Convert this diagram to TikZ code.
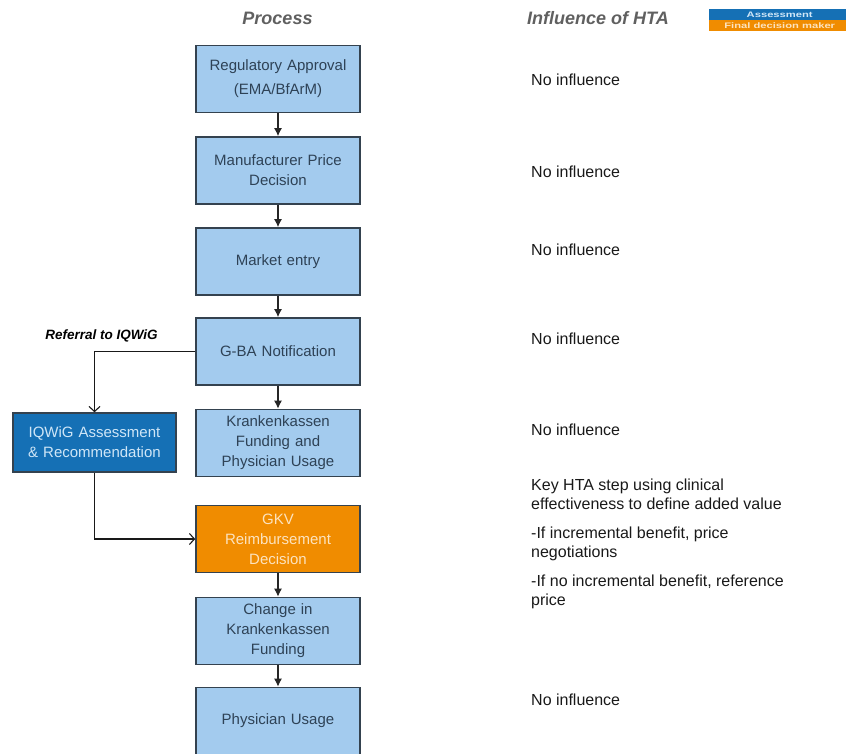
\documentclass[tikz,border=0pt]{standalone}
\usepackage{fontspec}
\setmainfont{Liberation Sans}
\usetikzlibrary{arrows.meta}
\definecolor{lightbox}{HTML}{A3CBEE}
\definecolor{boxline}{HTML}{34424F}
\definecolor{boxtext}{HTML}{2E4256}
\definecolor{assessblue}{HTML}{1570B5}
\definecolor{decorange}{HTML}{F08C00}
\definecolor{titlegray}{HTML}{606060}
\definecolor{lighttext}{HTML}{CFE6F7}
\definecolor{creamtext}{HTML}{FCE3BF}
\begin{document}
\begin{tikzpicture}[x=1pt,y=-1pt,
  procbox/.style={draw=boxline, line width=1.6pt, fill=lightbox, minimum width=164pt, minimum height=67pt,
    text width=156pt, align=center, inner sep=0pt, font=\fontsize{15}{20}\selectfont, text=boxtext},
  assessbox/.style={procbox, fill=assessblue, text=lighttext, minimum width=163pt, minimum height=59pt},
  decisionbox/.style={procbox, fill=decorange, text=creamtext},
  flow/.style={draw=black!85, line width=1.3pt, -{Latex[length=8pt,width=8pt]}},
  referral/.style={draw=black!90, line width=1.1pt, -{Straight Barb[length=5pt,width=11pt]}},
  coltitle/.style={font=\fontsize{18}{22}\selectfont\bfseries\itshape, text=titlegray, inner sep=0pt},
  influence/.style={anchor=west, inner sep=0pt, font=\fontsize{16}{19}\selectfont, text=black!90},
  legendbox/.style={minimum width=141pt, inner sep=0pt, font=\fontsize{8}{9}\selectfont\bfseries}
]
\useasboundingbox (0,0) rectangle (846,753);

% column titles
\node[coltitle] (tproc) at (277.5,18) {Process};
\node[coltitle] (thta) at (598,18) {Influence of HTA};

% legend
\node[legendbox, fill=assessblue, minimum height=11pt, anchor=north west, text=lighttext] (legA) at (709,9) {\scalebox{1.4}[1]{Assessment}};
\node[legendbox, fill=decorange, minimum height=11pt, anchor=north west, text=creamtext] (legF) at (709,20) {\scalebox{1.4}[1]{Final decision maker}};

% process boxes
\node[procbox] (b1) at (278,79) {Regulatory Approval\\[4pt](EMA/BfArM)};
\node[procbox] (b2) at (278,170.5) {Manufacturer Price\\Decision};
\node[procbox] (b3) at (278,261.5) {Market entry};
\node[procbox] (b4) at (278,351.5) {G-BA Notification};
\node[procbox] (b5) at (278,443) {Krankenkassen\\Funding and\\Physician Usage};
\node[decisionbox] (b6) at (278,539) {GKV\\Reimbursement\\Decision};
\node[procbox] (b7) at (278,631) {Change in\\Krankenkassen\\Funding};
\node[procbox] (b8) at (278,721) {Physician Usage};

\node[assessbox] (iq) at (94.5,442.5) {IQWiG Assessment\\\& Recommendation};

% connectors
\draw[flow] (b1) -- (b2);
\draw[flow] (b2) -- (b3);
\draw[flow] (b3) -- (b4);
\draw[flow] (b4) -- (b5);
\draw[flow] (b6) -- (b7);
\draw[flow] (b7) -- (b8);
\draw[referral] (b4.west) -| (iq.north);
\draw[referral] (iq.south) |- (b6.west);

\node[font=\fontsize{13.5}{16}\selectfont\bfseries\itshape, inner sep=0pt] (ref) at (101.5,336) {Referral to IQWiG};

% influence column
\node[influence] (i1) at (531,80) {No influence};
\node[influence] (i2) at (531,172) {No influence};
\node[influence] (i3) at (531,250) {No influence};
\node[influence] (i4) at (531,339) {No influence};
\node[influence] (i5) at (531,430) {No influence};
\node[influence, anchor=north west, align=left] (i6) at (531,479)
  {Key HTA step using clinical\\effectiveness to define added value\\[10pt]
   -If incremental benefit, price\\negotiations\\[10pt]
   -If no incremental benefit, reference\\price};
\node[influence] (i7) at (531,700) {No influence};
\end{tikzpicture}
\end{document}
